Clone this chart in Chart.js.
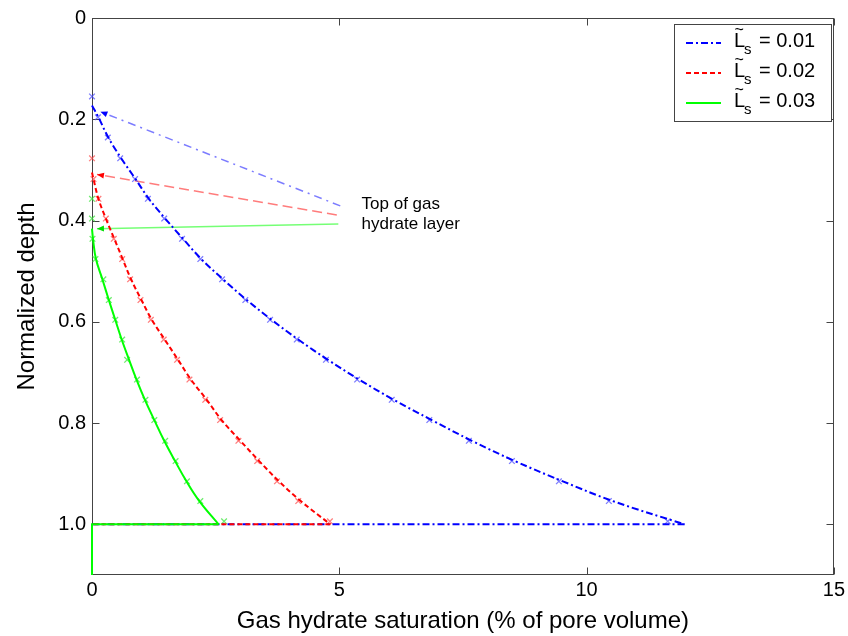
<!DOCTYPE html>
<html><head><meta charset="utf-8">
<script src="https://cdn.jsdelivr.net/npm/chart.js@4/dist/chart.umd.min.js"></script>
<style>html,body{margin:0;padding:0;background:#fff;}#wrap{width:848px;height:636px;}</style>
</head><body><div id="wrap"><canvas id="c" width="848" height="636"></canvas></div>
<script>
// ---------------- data ----------------
const xTickValues = [0, 5, 10, 15];
const yTickValues = [0, 0.2, 0.4, 0.6, 0.8, 1.0];
const legendValues = ['0.01', '0.02', '0.03'];
const annotationLines = ['Top of gas', 'hydrate layer'];

// 'x' markers (numerical results)
const markerDepth = [0.155,0.196,0.236,0.277,0.318,0.357,0.396,0.436,0.476,0.516,0.557,0.596,0.635,0.675,0.714,0.754,0.794,0.835,0.875,0.915,0.954,0.994];
const markerSatL1 = [0,0.12,0.32,0.57,0.87,1.13,1.46,1.82,2.19,2.63,3.10,3.60,4.14,4.73,5.36,6.06,6.82,7.62,8.49,9.44,10.45,11.64];
const markerSatL2 = [null,null,null,0,0.03,0.13,0.28,0.44,0.61,0.77,0.98,1.19,1.45,1.72,1.97,2.29,2.59,2.96,3.34,3.74,4.17,4.81];
const markerSatL3 = [null,null,null,null,null,0,0,0.01,0.07,0.23,0.34,0.47,0.61,0.71,0.91,1.08,1.26,1.48,1.69,1.92,2.19,2.67];

// curves (analytic)
const curveDepthL1 = [0.173,0.196,0.236,0.277,0.318,0.357,0.396,0.436,0.476,0.516,0.557,0.596,0.635,0.675,0.714,0.754,0.794,0.835,0.875,0.915,0.954,1.0];
const curveSatL1   = [0,0.13,0.33,0.59,0.88,1.15,1.48,1.84,2.21,2.65,3.13,3.63,4.17,4.77,5.40,6.10,6.87,7.68,8.55,9.52,10.53,11.98];
const curveDepthL2 = [0.305,0.318,0.357,0.396,0.436,0.476,0.516,0.557,0.596,0.635,0.675,0.714,0.754,0.794,0.835,0.875,0.915,0.954,1.0];
const curveSatL2   = [0,0.03,0.13,0.28,0.45,0.62,0.79,1.0,1.21,1.47,1.74,2.0,2.32,2.62,3.0,3.38,3.78,4.22,4.82];
const curveDepthL3 = [0.416,0.436,0.476,0.516,0.557,0.596,0.635,0.675,0.714,0.754,0.794,0.835,0.875,0.915,0.954,1.0];
const curveSatL3   = [0,0.02,0.08,0.21,0.34,0.47,0.60,0.75,0.90,1.07,1.26,1.46,1.68,1.91,2.17,2.56];

// base of the hydrate layer (back along depth 1.0, then down the axis)
const baseDepth   = [1.0, 1.0, 1.1];
const baseSatL1   = [11.98, 0, 0];
const baseSatL2   = [4.82, 0, 0];
const baseSatL3   = [2.56, 0, 0];

// annotation arrows: [tail, tip]
const arrowSatL1 = [5.02, 0.17];  const arrowDepthL1 = [0.371, 0.185];
const arrowSatL2 = [4.95, 0.10];  const arrowDepthL2 = [0.389, 0.309];
const arrowSatL3 = [4.98, 0.10];  const arrowDepthL3 = [0.407, 0.416];
const annotationPos = {x: 5.45, depths: [0.368, 0.407]};

// ---------------- helpers ----------------
const pts = (xs, ys) => xs.map((v, i) => ({x: v, y: ys[i]})).filter(p => p.x !== null);
const FONT = '"Liberation Sans", Arial, Helvetica, sans-serif';
Chart.defaults.font.family = FONT;
Chart.defaults.color = '#000';

const lineDs = (label, xs, ys, color, dash, order, tension, series) => ({
  label, data: pts(xs, ys), showLine: true, borderColor: color, backgroundColor: color,
  borderWidth: 2, borderDash: dash, pointRadius: 0, tension, clip: false, order, isSeries: series
});
const markDs = (xs, ys, color, order) => ({
  data: pts(xs, ys), showLine: false, pointStyle: 'crossRot', pointRadius: 4,
  borderColor: color, backgroundColor: color, pointBorderWidth: 1.3, clip: false, order
});
const arrowDs = (xs, ys, color, head, dash, order) => ({
  data: pts(xs, ys), showLine: true, borderColor: color, borderWidth: 1.5, borderDash: dash,
  pointRadius: 0, clip: false, order, arrowColor: head
});

const datasets = [
  lineDs('L1', curveSatL1, curveDepthL1, '#0000ff', [7,3,2,3], 5, 0.4, true),
  lineDs('L2', curveSatL2, curveDepthL2, '#ff0000', [5,3], 3, 0.4, true),
  lineDs('L3', curveSatL3, curveDepthL3, '#00ff00', [], 1, 0.4, true),
  lineDs('L1 base', baseSatL1, baseDepth, '#0000ff', [7,3,2,3], 6, 0, false),
  lineDs('L2 base', baseSatL2, baseDepth, '#ff0000', [5,3], 4, 0, false),
  lineDs('L3 base', baseSatL3, baseDepth, '#00ff00', [], 2, 0, false),
  markDs(markerSatL1, markerDepth, 'rgba(70,70,255,0.7)', 9),
  markDs(markerSatL2, markerDepth, 'rgba(255,70,70,0.7)', 8),
  markDs(markerSatL3, markerDepth, 'rgba(60,230,60,0.75)', 7),
  arrowDs(arrowSatL1, arrowDepthL1, 'rgba(110,110,255,0.9)', '#0000ff', [8,5,2,5], 10),
  arrowDs(arrowSatL2, arrowDepthL2, 'rgba(255,110,110,0.9)', '#ff0000', [10,5], 11),
  arrowDs(arrowSatL3, arrowDepthL3, 'rgba(110,255,110,0.95)', '#00e000', [], 12)
];

// ---------------- plugins ----------------
const framePlugin = {
  id: 'frame',
  beforeDatasetsDraw(chart) {
    const {ctx, chartArea: a, scales: {x, y}} = chart;
    ctx.save();
    ctx.strokeStyle = '#444'; ctx.lineWidth = 1; ctx.setLineDash([]);
    const L = Math.round(a.left) + 0.5, R = Math.round(a.right) - 0.5;
    const T = Math.round(a.top) + 0.5, B = Math.round(a.bottom) - 0.5;
    ctx.strokeRect(L, T, R - L, B - T);
    const tl = 7;
    ctx.beginPath();
    x.ticks.forEach(t => {
      const p = Math.round(x.getPixelForValue(t.value)) + 0.5;
      ctx.moveTo(p, B); ctx.lineTo(p, B - tl);
      ctx.moveTo(p, T); ctx.lineTo(p, T + tl);
    });
    y.ticks.forEach(t => {
      const p = Math.round(y.getPixelForValue(t.value)) + 0.5;
      ctx.moveTo(L, p); ctx.lineTo(L + tl, p);
      ctx.moveTo(R, p); ctx.lineTo(R - tl, p);
    });
    ctx.stroke();
    ctx.restore();
  }
};

const arrowPlugin = {
  id: 'arrows',
  afterDatasetsDraw(chart) {
    const ctx = chart.ctx;
    ctx.save();
    chart.data.datasets.forEach((ds, i) => {
      if (!ds.arrowColor) return;
      const el = chart.getDatasetMeta(i).data;
      const tail = el[0], tip = el[el.length - 1];
      const ang = Math.atan2(tip.y - tail.y, tip.x - tail.x);
      const Lh = 7, W = 3;
      const c = Math.cos(ang), s = Math.sin(ang);
      ctx.beginPath();
      ctx.moveTo(tip.x, tip.y);
      ctx.lineTo(tip.x - Lh * c + W * s, tip.y - Lh * s - W * c);
      ctx.lineTo(tip.x - Lh * c - W * s, tip.y - Lh * s + W * c);
      ctx.closePath();
      ctx.fillStyle = ds.arrowColor; ctx.fill();
    });
    const {x, y} = chart.scales;
    ctx.fillStyle = '#000';
    ctx.font = '17px ' + FONT;
    ctx.textAlign = 'left'; ctx.textBaseline = 'middle';
    annotationLines.forEach((t, k) => {
      ctx.fillText(t, x.getPixelForValue(annotationPos.x), y.getPixelForValue(annotationPos.depths[k]));
    });
    ctx.restore();
  }
};

const legendPlugin = {
  id: 'customLegend',
  afterDraw(chart) {
    const {ctx, chartArea: a} = chart;
    const series = chart.data.datasets.filter(d => d.isSeries);
    const bw = 157, bh = 97;
    const bx = Math.round(a.right) - 3 - bw, by = Math.round(a.top) + 6;
    ctx.save();
    ctx.fillStyle = '#fff';
    ctx.fillRect(bx, by, bw, bh);
    ctx.strokeStyle = '#444'; ctx.lineWidth = 1; ctx.setLineDash([]);
    ctx.strokeRect(bx + 0.5, by + 0.5, bw, bh);
    series.forEach((ds, i) => {
      const yy = by + 19 + i * 30;
      ctx.beginPath();
      ctx.setLineDash(ds.borderDash || []);
      ctx.strokeStyle = ds.borderColor; ctx.lineWidth = 2;
      ctx.moveTo(bx + 12, yy); ctx.lineTo(bx + 47, yy); ctx.stroke();
      ctx.setLineDash([]);
      const base = yy + 4;
      ctx.fillStyle = '#000';
      ctx.textBaseline = 'alphabetic'; ctx.textAlign = 'left';
      ctx.font = '20px ' + FONT;
      const lx = bx + 60;
      ctx.fillText('L', lx, base);
      const lw = ctx.measureText('L').width;
      ctx.font = '16px ' + FONT;
      ctx.textAlign = 'center';
      ctx.fillText('~', lx + lw / 2 - 0.5, base - 12);
      ctx.textAlign = 'left';
      ctx.font = '15px ' + FONT;
      ctx.fillText('s', lx + lw - 1, base + 7);
      ctx.font = '20px ' + FONT;
      ctx.fillText('= ' + legendValues[i], lx + 25, base);
    });
    ctx.restore();
  }
};

new Chart(document.getElementById('c'), {
  type: 'scatter',
  data: {datasets},
  options: {
    responsive: false, animation: false, devicePixelRatio: 1,
    layout: {padding: {top: 14, right: 13, left: 0, bottom: 0}},
    plugins: {legend: {display: false}, tooltip: {enabled: false}},
    scales: {
      x: {
        type: 'linear', min: 0, max: 15,
        afterBuildTicks: s => { s.ticks = xTickValues.map(v => ({value: v})); },
        ticks: {font: {size: 20}, color: '#000', padding: 3, maxRotation: 0, callback: v => String(v)},
        grid: {display: false, drawTicks: false}, border: {display: false},
        title: {display: true, text: 'Gas hydrate saturation (% of pore volume)', font: {size: 24}, color: '#000', padding: {top: 0, bottom: 0}},
        afterFit: s => { s.height = 61; }
      },
      y: {
        type: 'linear', reverse: true, min: 0, max: 1.1,
        afterBuildTicks: s => { s.ticks = yTickValues.map(v => ({value: v})); },
        ticks: {font: {size: 20}, color: '#000', padding: 6, callback: v => v === 0 ? '0' : v.toFixed(1)},
        grid: {display: false, drawTicks: false}, border: {display: false},
        title: {display: true, text: 'Normalized depth', font: {size: 24}, color: '#000', padding: {top: 13, bottom: 0}},
        afterFit: s => { s.width = 92; }
      }
    }
  },
  plugins: [framePlugin, arrowPlugin, legendPlugin]
});
</script></body></html>
